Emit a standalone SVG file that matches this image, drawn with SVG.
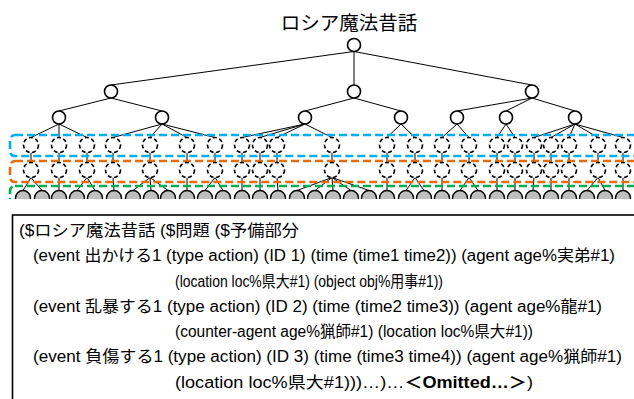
<svg xmlns="http://www.w3.org/2000/svg" width="634" height="399" viewBox="0 0 634 399">
<style>
.t{font-family:"Liberation Sans","Noto Sans CJK JP",sans-serif;font-size:16px;fill:#000}
.title{font-family:"Noto Sans CJK JP","Liberation Sans",sans-serif;font-size:19.5px;fill:#000}
.s{fill:#fff;stroke:#000;stroke-width:1.6}
.d{fill:#fff;stroke:#000;stroke-width:1.6;stroke-dasharray:4 2.6}
.g{fill:#bfbfbf;stroke:#000;stroke-width:1.4}
.c line{stroke:#000;stroke-width:1}
.band{fill:none;stroke-width:2.6;stroke-dasharray:8 4}
</style>
<defs>
<clipPath id="clip"><rect x="0" y="0" width="634" height="199"/></clipPath>
</defs>
<text class="title" x="349" y="30" text-anchor="middle">ロシア魔法昔話</text>
<g clip-path="url(#clip)">
<g id="connectors" class="c">
<line x1="354" y1="51.5" x2="111" y2="85"/>
<line x1="354" y1="51.5" x2="354" y2="85"/>
<line x1="354" y1="51.5" x2="532" y2="85"/>
<line x1="111" y1="98" x2="59" y2="111"/>
<line x1="111" y1="98" x2="162" y2="111"/>
<line x1="354" y1="98" x2="305" y2="111"/>
<line x1="354" y1="98" x2="401" y2="111"/>
<line x1="532" y1="98" x2="457" y2="111"/>
<line x1="532" y1="98" x2="506" y2="111"/>
<line x1="532" y1="98" x2="575" y2="111"/>
<line x1="59" y1="124" x2="31" y2="137.5"/>
<line x1="59" y1="124" x2="59" y2="137.5"/>
<line x1="59" y1="124" x2="87" y2="137.5"/>
<line x1="162" y1="124" x2="113" y2="137.5"/>
<line x1="162" y1="124" x2="150" y2="137.5"/>
<line x1="162" y1="124" x2="187" y2="137.5"/>
<line x1="162" y1="124" x2="215" y2="137.5"/>
<line x1="305" y1="124" x2="242" y2="137.5"/>
<line x1="305" y1="124" x2="260" y2="137.5"/>
<line x1="305" y1="124" x2="277" y2="137.5"/>
<line x1="305" y1="124" x2="332" y2="137.5"/>
<line x1="401" y1="124" x2="387" y2="137.5"/>
<line x1="401" y1="124" x2="415" y2="137.5"/>
<line x1="457" y1="124" x2="442" y2="137.5"/>
<line x1="457" y1="124" x2="469" y2="137.5"/>
<line x1="506" y1="124" x2="497" y2="137.5"/>
<line x1="506" y1="124" x2="515" y2="137.5"/>
<line x1="575" y1="124" x2="534" y2="137.5"/>
<line x1="575" y1="124" x2="551" y2="137.5"/>
<line x1="575" y1="124" x2="569" y2="137.5"/>
<line x1="575" y1="124" x2="598" y2="137.5"/>
<line x1="575" y1="124" x2="623" y2="137.5"/>
<line x1="31" y1="152.5" x2="31" y2="162.5"/>
<line x1="59" y1="152.5" x2="59" y2="162.5"/>
<line x1="87" y1="152.5" x2="87" y2="162.5"/>
<line x1="113" y1="152.5" x2="113" y2="162.5"/>
<line x1="150" y1="152.5" x2="150" y2="162.5"/>
<line x1="187" y1="152.5" x2="187" y2="162.5"/>
<line x1="215" y1="152.5" x2="215" y2="162.5"/>
<line x1="242" y1="152.5" x2="242" y2="162.5"/>
<line x1="260" y1="152.5" x2="260" y2="162.5"/>
<line x1="277" y1="152.5" x2="277" y2="162.5"/>
<line x1="332" y1="152.5" x2="332" y2="162.5"/>
<line x1="387" y1="152.5" x2="387" y2="162.5"/>
<line x1="415" y1="152.5" x2="415" y2="162.5"/>
<line x1="442" y1="152.5" x2="442" y2="162.5"/>
<line x1="469" y1="152.5" x2="469" y2="162.5"/>
<line x1="497" y1="152.5" x2="497" y2="162.5"/>
<line x1="515" y1="152.5" x2="515" y2="162.5"/>
<line x1="534" y1="152.5" x2="534" y2="162.5"/>
<line x1="551" y1="152.5" x2="551" y2="162.5"/>
<line x1="569" y1="152.5" x2="569" y2="162.5"/>
<line x1="598" y1="152.5" x2="598" y2="162.5"/>
<line x1="623" y1="152.5" x2="623" y2="162.5"/>
<line x1="31" y1="177.5" x2="23" y2="190.5"/>
<line x1="31" y1="177.5" x2="42" y2="190.5"/>
<line x1="59" y1="177.5" x2="59" y2="190.5"/>
<line x1="87" y1="177.5" x2="77" y2="190.5"/>
<line x1="87" y1="177.5" x2="95" y2="190.5"/>
<line x1="113" y1="177.5" x2="114" y2="190.5"/>
<line x1="150" y1="177.5" x2="133" y2="190.5"/>
<line x1="150" y1="177.5" x2="151" y2="190.5"/>
<line x1="150" y1="177.5" x2="168" y2="190.5"/>
<line x1="187" y1="177.5" x2="187" y2="190.5"/>
<line x1="215" y1="177.5" x2="205" y2="190.5"/>
<line x1="215" y1="177.5" x2="223" y2="190.5"/>
<line x1="242" y1="177.5" x2="242" y2="190.5"/>
<line x1="260" y1="177.5" x2="260" y2="190.5"/>
<line x1="277" y1="177.5" x2="278" y2="190.5"/>
<line x1="332" y1="177.5" x2="297" y2="190.5"/>
<line x1="332" y1="177.5" x2="315" y2="190.5"/>
<line x1="332" y1="177.5" x2="333" y2="190.5"/>
<line x1="332" y1="177.5" x2="351" y2="190.5"/>
<line x1="332" y1="177.5" x2="369" y2="190.5"/>
<line x1="387" y1="177.5" x2="387" y2="190.5"/>
<line x1="415" y1="177.5" x2="406" y2="190.5"/>
<line x1="415" y1="177.5" x2="424" y2="190.5"/>
<line x1="442" y1="177.5" x2="442" y2="190.5"/>
<line x1="469" y1="177.5" x2="460" y2="190.5"/>
<line x1="469" y1="177.5" x2="478" y2="190.5"/>
<line x1="497" y1="177.5" x2="497" y2="190.5"/>
<line x1="515" y1="177.5" x2="515" y2="190.5"/>
<line x1="534" y1="177.5" x2="533" y2="190.5"/>
<line x1="551" y1="177.5" x2="551" y2="190.5"/>
<line x1="569" y1="177.5" x2="569" y2="190.5"/>
<line x1="598" y1="177.5" x2="587" y2="190.5"/>
<line x1="598" y1="177.5" x2="605" y2="190.5"/>
<line x1="623" y1="177.5" x2="623" y2="190.5"/>
</g>
<g id="bands">
<rect class="band" x="10" y="135" width="640" height="21" rx="5" stroke="#00B0F0"/>
<rect class="band" x="10" y="161" width="640" height="21" rx="5" stroke="#E46C0A"/>
<rect class="band" x="10" y="186" width="640" height="30" rx="5" stroke="#00B050"/>
</g>
<g id="root"><circle class="s" cx="354" cy="45" r="6.5"/></g>
<g id="l1">
<circle class="s" cx="111" cy="91.5" r="6.5"/>
<circle class="s" cx="354" cy="91.5" r="6.5"/>
<circle class="s" cx="532" cy="91.5" r="6.5"/>
</g>
<g id="l2">
<circle class="s" cx="59" cy="117.5" r="6.5"/>
<circle class="s" cx="162" cy="117.5" r="6.5"/>
<circle class="s" cx="305" cy="117.5" r="6.5"/>
<circle class="s" cx="401" cy="117.5" r="6.5"/>
<circle class="s" cx="457" cy="117.5" r="6.5"/>
<circle class="s" cx="506" cy="117.5" r="6.5"/>
<circle class="s" cx="575" cy="117.5" r="6.5"/>
</g>
<g id="l3">
<circle class="d" cx="31" cy="145" r="7.5"/><circle class="d" cx="59" cy="145" r="7.5"/><circle class="d" cx="87" cy="145" r="7.5"/><circle class="d" cx="113" cy="145" r="7.5"/><circle class="d" cx="150" cy="145" r="7.5"/><circle class="d" cx="187" cy="145" r="7.5"/><circle class="d" cx="215" cy="145" r="7.5"/><circle class="d" cx="242" cy="145" r="7.5"/><circle class="d" cx="260" cy="145" r="7.5"/><circle class="d" cx="277" cy="145" r="7.5"/><circle class="d" cx="332" cy="145" r="7.5"/><circle class="d" cx="387" cy="145" r="7.5"/><circle class="d" cx="415" cy="145" r="7.5"/><circle class="d" cx="442" cy="145" r="7.5"/><circle class="d" cx="469" cy="145" r="7.5"/><circle class="d" cx="497" cy="145" r="7.5"/><circle class="d" cx="515" cy="145" r="7.5"/><circle class="d" cx="534" cy="145" r="7.5"/><circle class="d" cx="551" cy="145" r="7.5"/><circle class="d" cx="569" cy="145" r="7.5"/><circle class="d" cx="598" cy="145" r="7.5"/><circle class="d" cx="623" cy="145" r="7.5"/>
</g>
<g id="l4">
<circle class="d" cx="31" cy="170" r="7.5"/><circle class="d" cx="59" cy="170" r="7.5"/><circle class="d" cx="87" cy="170" r="7.5"/><circle class="d" cx="113" cy="170" r="7.5"/><circle class="d" cx="150" cy="170" r="7.5"/><circle class="d" cx="187" cy="170" r="7.5"/><circle class="d" cx="215" cy="170" r="7.5"/><circle class="d" cx="242" cy="170" r="7.5"/><circle class="d" cx="260" cy="170" r="7.5"/><circle class="d" cx="277" cy="170" r="7.5"/><circle class="d" cx="332" cy="170" r="7.5"/><circle class="d" cx="387" cy="170" r="7.5"/><circle class="d" cx="415" cy="170" r="7.5"/><circle class="d" cx="442" cy="170" r="7.5"/><circle class="d" cx="469" cy="170" r="7.5"/><circle class="d" cx="497" cy="170" r="7.5"/><circle class="d" cx="515" cy="170" r="7.5"/><circle class="d" cx="534" cy="170" r="7.5"/><circle class="d" cx="551" cy="170" r="7.5"/><circle class="d" cx="569" cy="170" r="7.5"/><circle class="d" cx="598" cy="170" r="7.5"/><circle class="d" cx="623" cy="170" r="7.5"/>
</g>
<g id="l5">
<circle class="g" cx="23" cy="198" r="7.5"/><circle class="g" cx="42" cy="198" r="7.5"/><circle class="g" cx="59" cy="198" r="7.5"/><circle class="g" cx="77" cy="198" r="7.5"/><circle class="g" cx="95" cy="198" r="7.5"/><circle class="g" cx="114" cy="198" r="7.5"/><circle class="g" cx="133" cy="198" r="7.5"/><circle class="g" cx="151" cy="198" r="7.5"/><circle class="g" cx="168" cy="198" r="7.5"/><circle class="g" cx="187" cy="198" r="7.5"/><circle class="g" cx="205" cy="198" r="7.5"/><circle class="g" cx="223" cy="198" r="7.5"/><circle class="g" cx="242" cy="198" r="7.5"/><circle class="g" cx="260" cy="198" r="7.5"/><circle class="g" cx="278" cy="198" r="7.5"/><circle class="g" cx="297" cy="198" r="7.5"/><circle class="g" cx="315" cy="198" r="7.5"/><circle class="g" cx="333" cy="198" r="7.5"/><circle class="g" cx="351" cy="198" r="7.5"/><circle class="g" cx="369" cy="198" r="7.5"/><circle class="g" cx="387" cy="198" r="7.5"/><circle class="g" cx="406" cy="198" r="7.5"/><circle class="g" cx="424" cy="198" r="7.5"/><circle class="g" cx="442" cy="198" r="7.5"/><circle class="g" cx="460" cy="198" r="7.5"/><circle class="g" cx="478" cy="198" r="7.5"/><circle class="g" cx="497" cy="198" r="7.5"/><circle class="g" cx="515" cy="198" r="7.5"/><circle class="g" cx="533" cy="198" r="7.5"/><circle class="g" cx="551" cy="198" r="7.5"/><circle class="g" cx="569" cy="198" r="7.5"/><circle class="g" cx="587" cy="198" r="7.5"/><circle class="g" cx="605" cy="198" r="7.5"/><circle class="g" cx="623" cy="198" r="7.5"/>
</g>
</g>
<g id="textbox">
<rect x="12.5" y="215" width="640" height="200" fill="#fff" stroke="#000" stroke-width="1.6"/>
<text class="t" x="19" y="236" textLength="280" lengthAdjust="spacingAndGlyphs">($ロシア魔法昔話 ($問題 ($予備部分</text>
<text class="t" x="33" y="261" textLength="582" lengthAdjust="spacingAndGlyphs">(event 出かける1 (type action) (ID 1) (time (time1 time2)) (agent age%実弟#1)</text>
<text class="t" x="175" y="287" textLength="268" lengthAdjust="spacingAndGlyphs">(location loc%県大#1) (object obj%用事#1))</text>
<text class="t" x="33" y="312" textLength="569" lengthAdjust="spacingAndGlyphs">(event 乱暴する1 (type action) (ID 2) (time (time2 time3)) (agent age%龍#1)</text>
<text class="t" x="175" y="337" textLength="358" lengthAdjust="spacingAndGlyphs">(counter-agent age%猟師#1) (location loc%県大#1))</text>
<text class="t" x="33" y="362" textLength="589" lengthAdjust="spacingAndGlyphs">(event 負傷する1 (type action) (ID 3) (time (time3 time4)) (agent age%猟師#1)</text>
<text class="t" x="175" y="388" textLength="358" lengthAdjust="spacingAndGlyphs">(location loc%県大#1)))…)…<tspan font-weight="bold">＜Omitted…＞</tspan>)</text>
</g>
</svg>
